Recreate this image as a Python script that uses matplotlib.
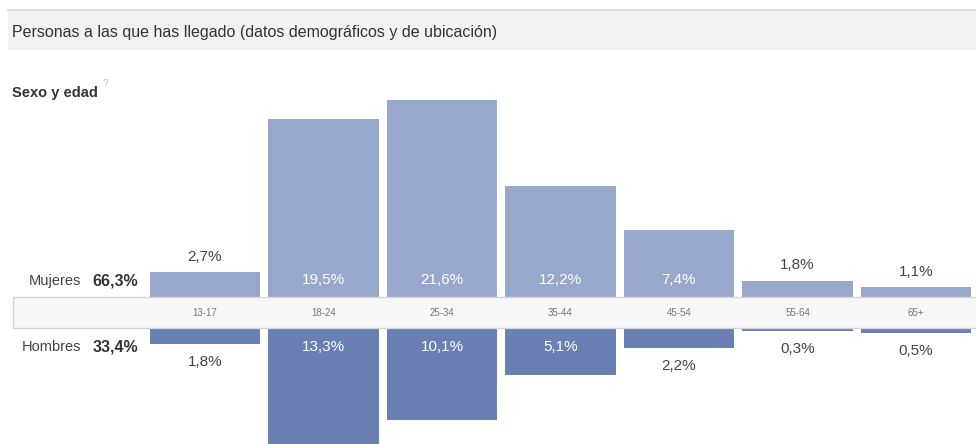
import matplotlib.pyplot as plt
from matplotlib.patches import Rectangle

plt.rcParams["font.family"] = ["Liberation Sans", "DejaVu Sans"]

ages = ["13-17", "18-24", "25-34", "35-44", "45-54", "55-64", "65+"]
women = [2.7, 19.5, 21.6, 12.2, 7.4, 1.8, 1.1]
men = [1.8, 13.3, 10.1, 5.1, 2.2, 0.3, 0.5]
women_total = "66,3%"
men_total = "33,4%"

W, H = 976, 444
px_per_pct = 9.12
pitch = 118.5
x0 = 205  # centre of first column, px
band_top, band_bot = 297, 328

women_color = "#98a8cc"
men_color = "#6a80b2"
text_color = "#444444"

fig = plt.figure(figsize=(W / 100, H / 100), dpi=100)
xlim = (-x0 / pitch, (W - x0) / pitch)


def fmt(v):
    return f"{v:.1f}%".replace(".", ",")


# women (upwards)
ax_w = fig.add_axes([0, (H - band_top) / H, 1, band_top / H])
ax_w.set_xlim(*xlim)
ax_w.set_ylim(0, band_top / px_per_pct)
ax_w.bar(range(len(ages)), women, width=0.93, color=women_color)
for i, v in enumerate(women):
    if v > 4:
        ax_w.annotate(fmt(v), (i, 0), xytext=(0, 12), textcoords="offset points",
                      ha="center", va="center", color="white", fontsize=11)
    else:
        ax_w.annotate(fmt(v), (i, v), xytext=(0, 11), textcoords="offset points",
                      ha="center", va="center", color=text_color, fontsize=11)
ax_w.axis("off")

# men (downwards)
ax_m = fig.add_axes([0, 0, 1, (H - band_bot) / H])
ax_m.set_xlim(*xlim)
ax_m.set_ylim((H - band_bot) / px_per_pct, 0)
ax_m.bar(range(len(ages)), men, width=0.93, color=men_color)
for i, v in enumerate(men):
    if v > 4:
        ax_m.annotate(fmt(v), (i, 0), xytext=(0, -14), textcoords="offset points",
                      ha="center", va="center", color="white", fontsize=11)
    else:
        ax_m.annotate(fmt(v), (i, v), xytext=(0, -13), textcoords="offset points",
                      ha="center", va="center", color=text_color, fontsize=11)
ax_m.axis("off")

# age band
ax_b = fig.add_axes([0, (H - band_bot) / H, 1, (band_bot - band_top) / H])
ax_b.set_xlim(*xlim)
ax_b.set_ylim(0, 1)
ax_b.axis("off")
ax_b.add_patch(Rectangle((13 / W, 0), 1, 1, transform=ax_b.transAxes,
                         facecolor="#f7f7f7", edgecolor="#d4d4d4", lw=1, clip_on=False))
for i, a in enumerate(ages):
    ax_b.text(i, 0.5, a, ha="center", va="center", fontsize=7, color="#777777")

# left labels
fig.text(81 / W, 1 - 281 / H, "Mujeres", ha="right", va="center", fontsize=10.5, color=text_color)
fig.text(138 / W, 1 - 281 / H, women_total, ha="right", va="center", fontsize=11.5,
         color="#333333", weight="bold")
fig.text(81 / W, 1 - 347 / H, "Hombres", ha="right", va="center", fontsize=10.5, color=text_color)
fig.text(138 / W, 1 - 347 / H, men_total, ha="right", va="center", fontsize=11.5,
         color="#333333", weight="bold")

# header
fig.patches.append(Rectangle((8 / W, 1 - 50 / H), 1, 40 / H, transform=fig.transFigure,
                             facecolor="#f2f2f2", edgecolor="none"))
fig.lines.append(plt.Line2D([8 / W, 1], [1 - 10 / H, 1 - 10 / H], transform=fig.transFigure,
                            color="#dddddd", lw=1.5))
fig.text(12 / W, 1 - 32 / H, "Personas a las que has llegado (datos demográficos y de ubicación)",
         ha="left", va="center", fontsize=11.5, color="#333333")
fig.text(12 / W, 1 - 93 / H, "Sexo y edad", ha="left", va="center", fontsize=10.5,
         color="#333333", weight="bold")
fig.text(103 / W, 1 - 84 / H, "?", ha="left", va="center", fontsize=7, color="#bbbbbb")

fig.savefig("out.png", dpi=100, facecolor="white")
